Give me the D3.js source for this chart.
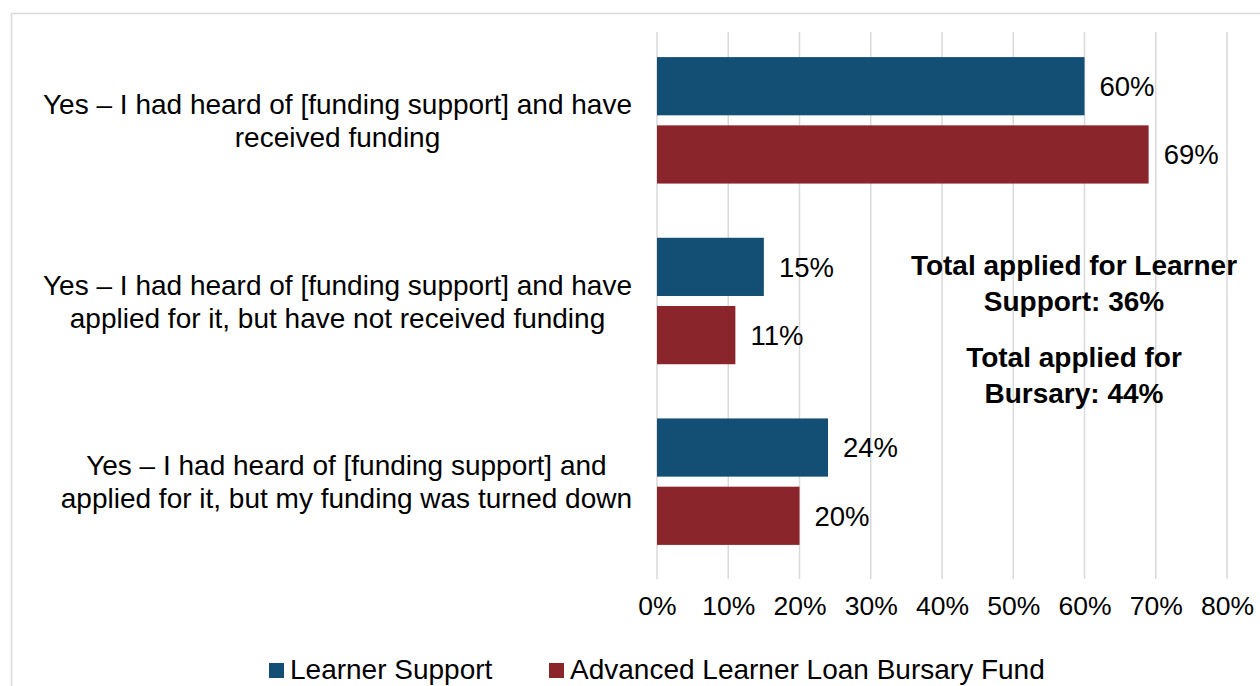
<!DOCTYPE html>
<html>
<head>
<meta charset="utf-8">
<script src="https://cdn.jsdelivr.net/npm/d3@7"></script>
<style>
  body { margin: 0; background: #fff; }
  text { font-family: "Liberation Sans", Arial, sans-serif; fill: #000; }
</style>
</head>
<body>
<svg id="chart" width="1260" height="686"></svg>
<script>
var svg = d3.select("#chart");

// data
var categories = [
  ["Yes \u2013 I had heard of [funding support] and have", "received funding"],
  ["Yes \u2013 I had heard of [funding support] and have", "applied for it, but have not received funding"],
  ["Yes \u2013 I had heard of [funding support] and", "applied for it, but my funding was turned down"]
];
var seriesNames = ["Learner Support", "Advanced Learner Loan Bursary Fund"];
var learnerSupport = [60, 15, 24];
var bursaryFund = [69, 11, 20];
var xTicks = [0, 10, 20, 30, 40, 50, 60, 70, 80];
var notes = [["Total applied for Learner", "Support: 36%"], ["Total applied for", "Bursary: 44%"]];

var colors = ["#134f74", "#8b252c"];

// outer frame
svg.append("rect")
  .attr("x", 11.5).attr("y", 13.5)
  .attr("width", 1300).attr("height", 700)
  .attr("fill", "none").attr("stroke", "#d9d9d9").attr("stroke-width", 1.5);

var xScale = d3.scaleLinear().domain([0, 80]).range([657, 1227]);

var yScale = d3.scaleBand()
  .domain(d3.range(categories.length))
  .range([30, 572])
  .paddingInner(0.3)
  .paddingOuter(0.15);

var ySub = d3.scaleBand()
  .domain([0, 1])
  .range([0, yScale.bandwidth()])
  .paddingInner(0.147);

// gridlines
svg.append("g")
  .attr("class", "grid")
  .selectAll("line")
  .data(xTicks)
  .enter().append("line")
  .attr("x1", function (d) { return xScale(d); })
  .attr("x2", function (d) { return xScale(d); })
  .attr("y1", 32)
  .attr("y2", 579)
  .attr("stroke", "#d9d9d9")
  .attr("stroke-width", 1.5);

// x axis labels
var bottomAxis = d3.axisBottom(xScale)
  .tickValues(xTicks)
  .tickSize(0)
  .tickPadding(0)
  .tickFormat(function (d) { return d + "%"; });
var xAxis = svg.append("g")
  .attr("transform", "translate(0,595)")
  .call(bottomAxis);
xAxis.select(".domain").remove();
xAxis.selectAll("text")
  .attr("y", 0).attr("dy", "0.75em")
  .style("font-size", "26.5px")
  .style("font-family", "'Liberation Sans', Arial, sans-serif")
  .attr("fill", "#000");

// bars
var rows = categories.map(function (c, i) {
  return [learnerSupport[i], bursaryFund[i]];
});

var groups = svg.selectAll(".group")
  .data(rows)
  .enter().append("g")
  .attr("class", "group")
  .attr("transform", function (d, i) { return "translate(0," + yScale(i) + ")"; });

groups.selectAll("rect")
  .data(function (d) { return d; })
  .enter().append("rect")
  .attr("x", xScale(0))
  .attr("y", function (d, j) { return ySub(j); })
  .attr("width", function (d) { return xScale(d) - xScale(0); })
  .attr("height", ySub.bandwidth())
  .attr("fill", function (d, j) { return colors[j]; });

groups.selectAll(".val")
  .data(function (d) { return d; })
  .enter().append("text")
  .attr("class", "val")
  .attr("x", function (d) { return xScale(d) + 15; })
  .attr("y", function (d, j) { return ySub(j) + ySub.bandwidth() / 2; })
  .attr("dy", "0.36em")
  .style("font-size", "27.5px")
  .text(function (d) { return d + "%"; });

// category labels, wrapped lines centred inside a right-aligned block
var labelRight = 632;
categories.forEach(function (lines, i) {
  var cy = yScale(i) + yScale.bandwidth() / 2;
  var g = svg.append("g");
  var texts = lines.map(function (line, k) {
    return g.append("text")
      .attr("y", cy + (k - (lines.length - 1) / 2) * 33)
      .attr("dy", "0.36em")
      .attr("text-anchor", "middle")
      .style("font-size", "28px")
      .text(line);
  });
  var maxW = d3.max(texts, function (t) { return t.node().getComputedTextLength(); });
  texts.forEach(function (t) { t.attr("x", labelRight - maxW / 2); });
});

// annotation
var noteY = [265, 357];
notes.forEach(function (lines, i) {
  lines.forEach(function (line, k) {
    svg.append("text")
      .attr("x", 1074)
      .attr("y", noteY[i] + k * 36)
      .attr("dy", "0.36em")
      .attr("text-anchor", "middle")
      .style("font-size", "28px")
      .style("font-weight", "bold")
      .text(line);
  });
});

// legend
var legendX = [269, 549];
var legend = svg.selectAll(".legend")
  .data(seriesNames)
  .enter().append("g")
  .attr("class", "legend")
  .attr("transform", function (d, i) { return "translate(" + legendX[i] + ",663)"; });

legend.append("rect")
  .attr("width", 15).attr("height", 15)
  .attr("fill", function (d, i) { return colors[i]; });

legend.append("text")
  .attr("x", 21)
  .attr("y", 16)
  .style("font-size", "28px")
  .text(function (d) { return d; });
</script>
</body>
</html>
